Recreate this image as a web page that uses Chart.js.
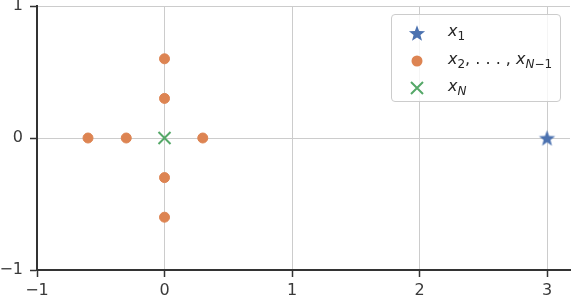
<!DOCTYPE html>
<html>
<head>
<meta charset="utf-8">
<script src="https://cdn.jsdelivr.net/npm/chart.js@4"></script>
<style>
  html, body { margin: 0; padding: 0; background: #fff; }
  #wrap { position: relative; width: 572px; height: 300px; }
  #legend {
    position: absolute; left: 391px; top: 14px; width: 168px; height: 86px;
    border: 1px solid #cccccc; border-radius: 4px; background: rgba(255,255,255,0.8);
    font-family: "DejaVu Sans", sans-serif; color: #262626;
  }
  #legend .row { position: absolute; left: 0; height: 20px; width: 168px; }
  #legend svg { position: absolute; left: 15px; top: 0; }
  #legend .txt { position: absolute; left: 56px; top: -2px; font-size: 16px; line-height: 20px; white-space: nowrap; }
  #legend i { font-style: italic; }
  #legend .sub { font-size: 12px; vertical-align: -4px; }
</style>
</head>
<body>
<div id="wrap">
  <canvas id="chart" width="572" height="300"></canvas>
  <div id="legend">
    <div class="row" style="top:8px">
      <svg width="20" height="20" viewBox="-10 -10 20 20"><polygon id="starPoly" fill="#4C72B0"/></svg>
      <span class="txt"><i>x</i><span class="sub">1</span></span>
    </div>
    <div class="row" style="top:36px">
      <svg width="20" height="20" viewBox="-10 -10 20 20"><circle r="5.5" fill="#DD8452"/></svg>
      <span class="txt"><i>x</i><span class="sub">2</span>, . . . , <i>x</i><span class="sub"><i>N</i>−1</span></span>
    </div>
    <div class="row" style="top:63px">
      <svg width="20" height="20" viewBox="-10 -10 20 20"><path d="M-6,-6L6,6M-6,6L6,-6" stroke="#55A868" stroke-width="2"/></svg>
      <span class="txt"><i>x</i><span class="sub"><i>N</i></span></span>
    </div>
  </div>
</div>
<script>
// data
const firstX = [3];
const firstY = [0];
const middleX = [0, 0, -0.6, -0.3, 0.3, 0, 0];
const middleY = [0.6, 0.3, 0, 0, 0, -0.3, -0.6];
const lastX = [0];
const lastY = [0];
const xTicks = [-1, 0, 1, 2, 3];
const yTicks = [-1, 0, 1];

const BLUE = '#4C72B0', ORANGE = '#DD8452', GREEN = '#55A868';
const DARK = '#333333', GRID = '#cccccc';

function starPoints(outer, inner) {
  const pts = [];
  for (let i = 0; i < 10; i++) {
    const r = i % 2 === 0 ? outer : inner;
    const a = -Math.PI / 2 + i * Math.PI / 5;
    pts.push([r * Math.cos(a), r * Math.sin(a)]);
  }
  return pts;
}

function makeStar(outer, color) {
  const size = Math.ceil(outer * 2 + 2);
  const c = document.createElement('canvas');
  c.width = size; c.height = size;
  const ctx = c.getContext('2d');
  ctx.translate(size / 2, size / 2 + 0.8);
  ctx.beginPath();
  starPoints(outer, outer * 0.42).forEach(([x, y], i) => i ? ctx.lineTo(x, y) : ctx.moveTo(x, y));
  ctx.closePath();
  ctx.fillStyle = color;
  ctx.fill();
  return c;
}

document.getElementById('starPoly').setAttribute('points',
  starPoints(8.5, 3.6).map(([x, y]) => `${x.toFixed(2)},${(y + 0.8).toFixed(2)}`).join(' '));

const zip = (xs, ys) => xs.map((x, i) => ({ x, y: ys[i] }));
const fmt = v => v < 0 ? '\u2212' + Math.abs(v) : String(v);

new Chart(document.getElementById('chart'), {
  type: 'scatter',
  data: {
    datasets: [
      { label: 'x1', data: zip(firstX, firstY), pointStyle: makeStar(8.5, BLUE), pointRadius: 8, backgroundColor: BLUE },
      { label: 'x2..xN-1', data: zip(middleX, middleY), pointStyle: 'circle', pointRadius: 5, borderWidth: 1,
        backgroundColor: ORANGE, borderColor: ORANGE },
      { label: 'xN', data: zip(lastX, lastY), pointStyle: 'crossRot', pointRadius: 8.5, borderWidth: 2,
        borderColor: GREEN, backgroundColor: GREEN }
    ]
  },
  options: {
    responsive: false,
    animation: false,
    layout: { autoPadding: false, padding: { top: 6, right: 2, left: 0, bottom: 0 } },
    plugins: { legend: { display: false }, tooltip: { enabled: false } },
    scales: {
      x: {
        type: 'linear', min: -1, max: 3.18,
        afterBuildTicks: s => { s.ticks = xTicks.map(v => ({ value: v })); },
        afterFit: s => { s.height = 30; s.paddingLeft = 0; s.paddingRight = 0; },
        grid: { color: GRID, lineWidth: 1, tickColor: DARK, tickLength: 7, tickWidth: 1.5 },
        border: { color: DARK, width: 2 },
        ticks: { color: '#3a3a3a', padding: 4, font: { family: 'DejaVu Sans', size: 16 }, callback: fmt, maxRotation: 0 }
      },
      y: {
        type: 'linear', min: -1, max: 1,
        afterBuildTicks: s => { s.ticks = yTicks.map(v => ({ value: v })); },
        afterFit: s => { s.width = 37; s.paddingTop = 0; s.paddingBottom = 0; },
        grid: { color: GRID, lineWidth: 1, tickColor: DARK, tickLength: 7, tickWidth: 1.5 },
        border: { color: DARK, width: 2 },
        ticks: { color: '#3a3a3a', padding: 7, font: { family: 'DejaVu Sans', size: 16 }, callback: fmt }
      }
    }
  }
});
</script>
</body>
</html>
